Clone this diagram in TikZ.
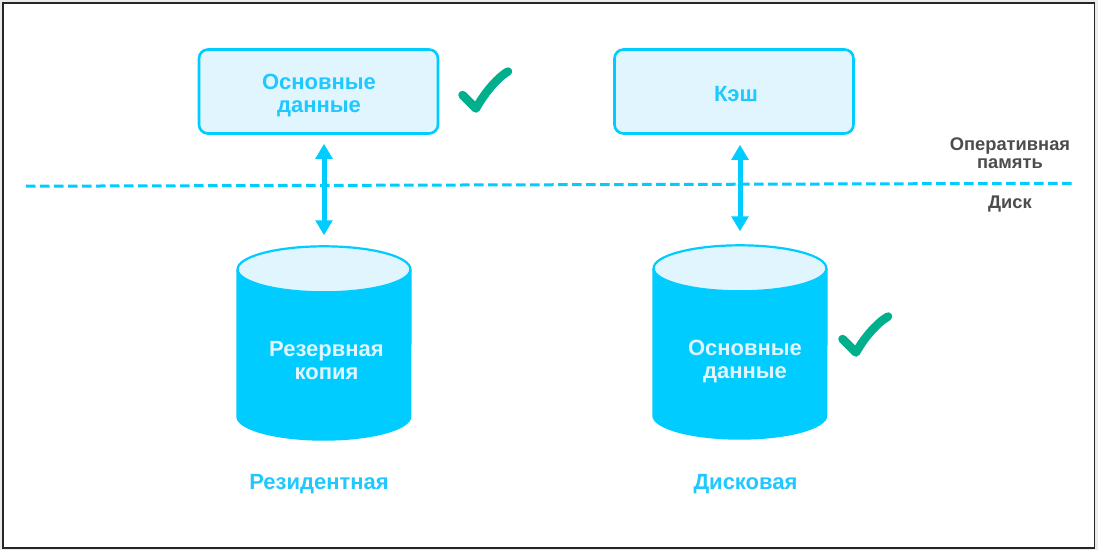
\documentclass[tikz,border=0pt]{standalone}
\usepackage{fontspec}
\setmainfont{Liberation Sans}
\usetikzlibrary{arrows.meta,calc}
\definecolor{cy}{HTML}{00CCFF}
\definecolor{lt}{HTML}{E1F5FE}
\definecolor{txt}{HTML}{1FC8FF}
\definecolor{gr}{HTML}{00AF8C}
\definecolor{dk}{HTML}{4D4D4D}
\tikzset{
 membox/.style={draw=cy,fill=lt,line width=2.6pt,rounded corners=9pt,minimum width=239pt,minimum height=84pt,inner sep=0pt},
 boxtext/.style={inner sep=0pt,align=center,text=txt,font=\bfseries\fontsize{22}{23}\selectfont},
 cylbody/.style={minimum width=175pt,minimum height=195pt,inner sep=0pt,draw=none},
 cyltext/.style={align=center,text=lt,font=\bfseries\fontsize{22}{23}\selectfont},
 caption/.style={text=txt,font=\bfseries\fontsize{22}{23}\selectfont,inner sep=0pt},
 side/.style={align=center,text=dk,font=\bfseries\fontsize{18.3}{18.5}\selectfont,inner sep=0pt},
 link/.style={draw=cy,line width=5pt,{Triangle[length=15pt,width=16.5pt]}-{Triangle[length=15pt,width=16.5pt]}},
 tick/.style={draw=gr,line width=8.5pt,line cap=round,line join=round},
}
\begin{document}
\begin{tikzpicture}[x=1pt,y=-1pt]
\useasboundingbox (0,0) rectangle (1098,550);
\fill[black!8] (0,0) rectangle (1098,550);
\draw[black!85,fill=white,line width=1.8pt] (3,3.2) rectangle (1094.5,548);

% boxes
\node[membox] (boxA) at (318.5,91.5) {};
\node[boxtext] (boxAtext) at (319,96) {Основные\\данные};
\node[membox] (boxB) at (734,91.5) {};
\node[boxtext] (boxBtext) at (736,94.5) {Кэш};

% cylinders
\node[cylbody] (cylA) at (324,343) {};
\node[cylbody] (cylB) at (740,342) {};
\foreach \c in {cylA,cylB}{
 \fill[cy] ($(\c.north west)+(0,24)$) -- ($(\c.south west)+(0,-24)$)
   arc[start angle=180,end angle=360,x radius=87.5pt,y radius=24pt]
   -- ($(\c.north east)+(0,24)$) -- cycle;
 \draw[cy,fill=lt,line width=2.2pt] ($(\c.north)+(0,24)$) ellipse[x radius=86.4pt,y radius=23pt];
}
\node[cyltext] (txtA) at (326.5,360.5) {Резервная\\копия};
\node[cyltext] (txtB) at (745,362) {Основные\\данные};

% dashed border line
\coordinate (dashL) at (26,186.2);
\coordinate (dashR) at (1073,183.3);
\draw[cy,line width=3pt,dash pattern=on 9.5pt off 4.5pt] (dashL) -- (dashR);

% arrows
\draw[link,shorten <=9pt,shorten >=10pt] (cylA.north |- boxA.south) -- (cylA.north);
\draw[link,shorten <=10pt,shorten >=13pt] (cylB.north |- boxB.south) -- (cylB.north);

% check marks
\coordinate (tickA) at (462.5,95);
\draw[tick] (tickA) -- ++(13.5,13.5) .. controls +(7,-13) and +(-12,7) .. ++(32,-37);
\coordinate (tickB) at (842.5,339);
\draw[tick] (tickB) -- ++(13.5,13.5) .. controls +(7,-13) and +(-12,7) .. ++(32,-36);

% labels
\node[caption] (capA) at (319,484) {Резидентная};
\node[caption] (capB) at (745.5,484) {Дисковая};
\node[side] (ram) at (1010,153) {Оперативная\\память};
\node[side] (disk) at (1010,204.5) {Диск};
\end{tikzpicture}
\end{document}
